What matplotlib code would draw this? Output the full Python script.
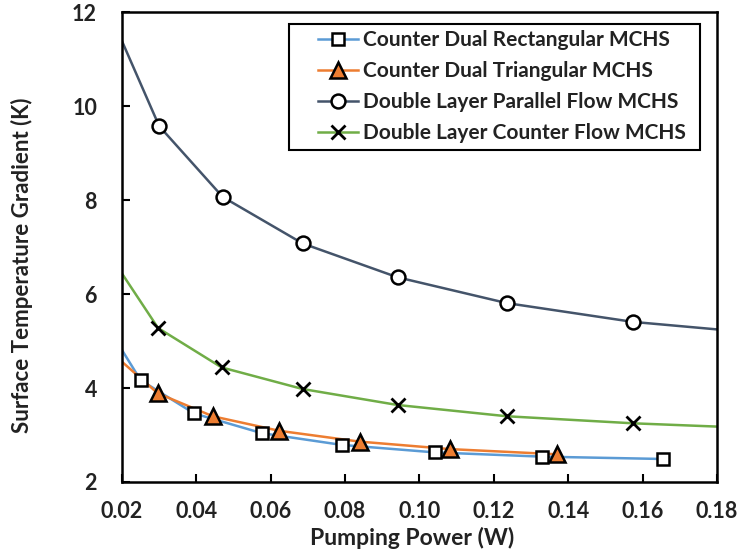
import matplotlib.pyplot as plt
from matplotlib.patches import Rectangle

plt.rcParams['font.family'] = ['Lato', 'DejaVu Sans']

# marker data (pumping power W, surface temperature gradient K)
rect_x = [0.0250, 0.0394, 0.0576, 0.0791, 0.1042, 0.1329, 0.1655]
rect_y = [4.17, 3.46, 3.04, 2.79, 2.63, 2.54, 2.49]
tri_x = [0.0296, 0.0444, 0.0623, 0.0839, 0.1083, 0.1370]
tri_y = [3.89, 3.40, 3.09, 2.86, 2.70, 2.59]
par_x = [0.0300, 0.0471, 0.0686, 0.0941, 0.1235, 0.1574]
par_y = [9.58, 8.07, 7.08, 6.36, 5.81, 5.41]
cnt_x = [0.0297, 0.0468, 0.0686, 0.0941, 0.1235, 0.1574]
cnt_y = [5.28, 4.44, 3.98, 3.64, 3.40, 3.25]

# curve end points outside the marker range
rect_start, rect_end = (0.02, 4.81), None
tri_start, tri_end = (0.02, 4.56), None
par_start, par_end = (0.02, 11.39), (0.18, 5.25)
cnt_start, cnt_end = (0.02, 6.44), (0.18, 3.18)

series = [
    ("Counter Dual Rectangular MCHS", rect_x, rect_y, rect_start, rect_end,
     "#5B9BD5", dict(marker="s", mfc="white", mec="black", ms=9, mew=1.8)),
    ("Counter Dual Triangular MCHS", tri_x, tri_y, tri_start, tri_end,
     "#ED7D31", dict(marker="^", mfc="#ED7D31", mec="black", ms=11, mew=1.8)),
    ("Double Layer Parallel Flow MCHS", par_x, par_y, par_start, par_end,
     "#44546A", dict(marker="o", mfc="white", mec="black", ms=10, mew=1.8)),
    ("Double Layer Counter Flow MCHS", cnt_x, cnt_y, cnt_start, cnt_end,
     "#70AD47", dict(marker="x", mfc="black", mec="black", ms=10, mew=2.0)),
]

fig = plt.figure(figsize=(7.47, 5.6), dpi=100)
ax = fig.add_axes([0.1633, 0.1393, 0.7965, 0.8384])

for label, xs, ys, start, end, color, mk in series:
    lx = [start[0]] + xs
    ly = [start[1]] + ys
    if end is not None:
        lx = lx + [end[0]]
        ly = ly + [end[1]]
    ax.plot(lx, ly, color=color, lw=1.8, zorder=2)
    ax.plot(xs, ys, ls="none", zorder=3, **mk)
    # proxy handle for the legend: line with marker
    ax.plot([], [], color=color, lw=1.8, label=label, **mk)

ax.set_xlim(0.02, 0.18)
ax.set_ylim(2, 12)
ax.set_xticks([0.02, 0.04, 0.06, 0.08, 0.10, 0.12, 0.14, 0.16, 0.18])
ax.set_xticklabels(["0.02", "0.04", "0.06", "0.08", "0.10", "0.12", "0.14", "0.16", "0.18"])
ax.set_yticks([2, 4, 6, 8, 10, 12])

for s in ax.spines.values():
    s.set_linewidth(1.8)
    s.set_color("black")

ax.tick_params(axis="x", direction="in", length=6, width=1.5, pad=14,
               labelsize=15.5)
ax.tick_params(axis="y", direction="in", length=6, width=1.5, pad=18,
               labelsize=15.5)
for t in ax.get_xticklabels() + ax.get_yticklabels():
    t.set_fontweight("bold")
    t.set_color("#222222")

ax.set_xlabel("Pumping Power (W)", fontsize=16.5, fontweight="bold",
              color="#222222")
ax.set_ylabel("Surface Temperature Gradient (K)", fontsize=16,
              fontweight="bold", color="#222222")
ax.xaxis.set_label_coords(0.487, -0.095)
ax.yaxis.set_label_coords(-0.150, 0.462)

# legend entries without frame, box drawn separately with a wider left margin
leg = ax.legend(loc="upper left", bbox_to_anchor=(0.3294, 0.962),
                frameon=False, prop={"size": 15, "weight": "bold"},
                handlelength=1.92, handletextpad=0.24, labelspacing=0.52,
                borderpad=0, borderaxespad=0)
for t in leg.get_texts():
    t.set_color("#222222")
ax.add_patch(Rectangle((0.2807, 0.7064), 0.6907, 0.2681, transform=ax.transAxes,
                       fill=False, edgecolor="black", lw=1.5, zorder=5))

fig.savefig("out.png", dpi=100)
